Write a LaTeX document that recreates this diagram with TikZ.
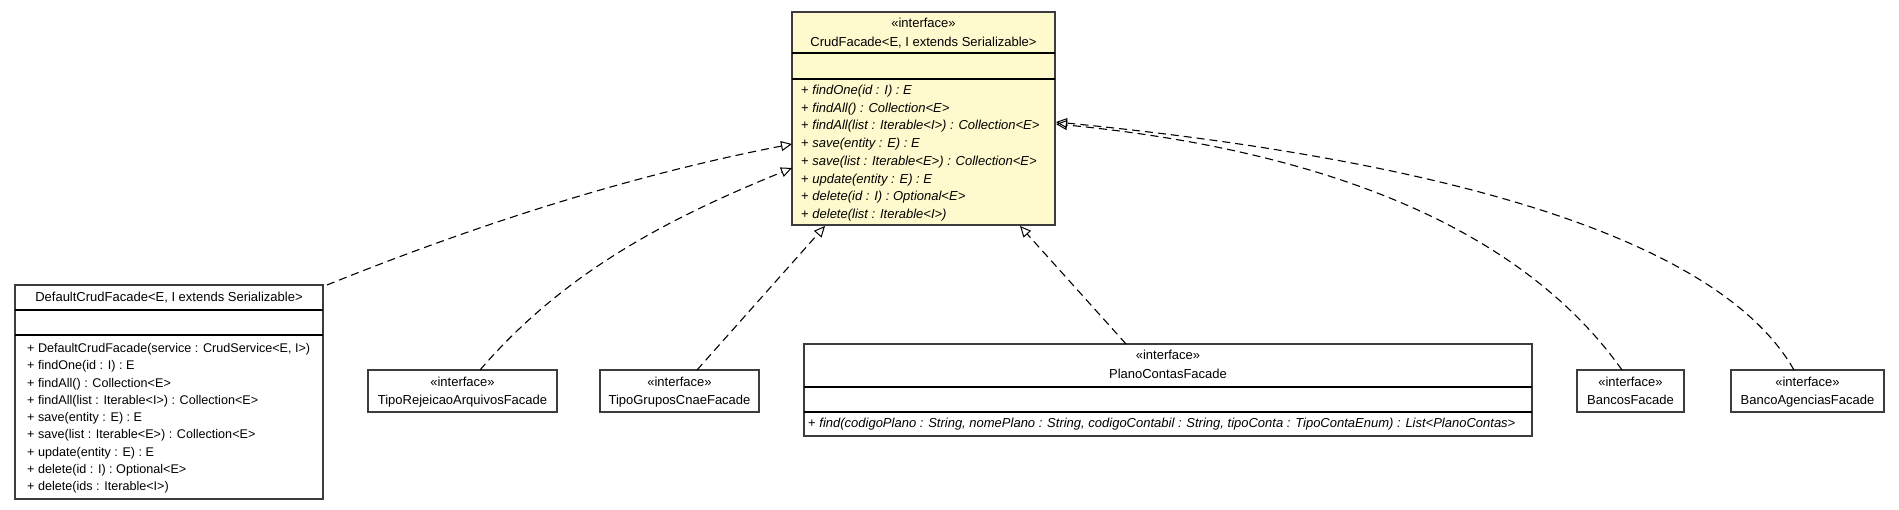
\documentclass[tikz,border=0pt]{standalone}
\usepackage{fontspec}
\setmainfont{Liberation Sans}
\usetikzlibrary{arrows.meta}
\definecolor{lemon}{RGB}{255,250,205}
\definecolor{boxline}{RGB}{60,60,60}
\begin{document}
\begin{tikzpicture}[x=1pt,y=-1pt,
  classbox/.style={draw=boxline, line width=1.5pt, anchor=north west, inner sep=0pt, outer sep=0pt},
  sepline/.style={draw=black, line width=1.3pt},
  txt/.style={inner sep=0pt, font=\fontsize{13}{15}\selectfont},
  smalltxt/.style={inner sep=0pt, font=\fontsize{12.6}{15}\selectfont},
  realize/.style={draw=black, line width=1.1pt, dash pattern=on 8pt off 5pt,
    -{Triangle[open, length=11pt, width=10pt, line width=1pt]}},
]
\useasboundingbox (0,0) rectangle (1899,509);
\fill[white] (0,0) rectangle (1899,509);

% CrudFacade
\node[classbox, fill=lemon, minimum width=263pt, minimum height=213pt] (crud) at (792,12) {};
\draw[sepline] (792,53) -- (1055,53);
\draw[sepline] (792,79) -- (1055,79);
\node[txt, anchor=base] (crudst) at (923.5,27.5) {«interface»};
\node[txt, anchor=base] (crudnm) at (923.5,46.5) {CrudFacade<E, I extends Serializable>};
\foreach \m [count=\i] in {{findOne(id : I) : E},{findAll() : Collection<E>},{findAll(list : Iterable<I>) : Collection<E>},{save(entity : E) : E},{save(list : Iterable<E>) : Collection<E>},{update(entity : E) : E},{delete(id : I) : Optional<E>},{delete(list : Iterable<I>)}}
  \node[txt, anchor=base west] (crudm\i) at (801,{94.5+17.7*(\i-1)}) {+ \textit{\m}};

% DefaultCrudFacade
\node[classbox, minimum width=308pt, minimum height=214pt] (default) at (15,285) {};
\draw[sepline] (15,310) -- (323,310);
\draw[sepline] (15,335) -- (323,335);
\node[txt, anchor=base] (defnm) at (169,301.5) {DefaultCrudFacade<E, I extends Serializable>};
\foreach \m [count=\i] in {{DefaultCrudFacade(service : CrudService<E, I>)},{findOne(id : I) : E},{findAll() : Collection<E>},{findAll(list : Iterable<I>) : Collection<E>},{save(entity : E) : E},{save(list : Iterable<E>) : Collection<E>},{update(entity : E) : E},{delete(id : I) : Optional<E>},{delete(ids : Iterable<I>)}}
  \node[smalltxt, anchor=base west] (defm\i) at (27,{352.5+17.25*(\i-1)}) {+ \m};

% TipoRejeicaoArquivosFacade
\node[classbox, minimum width=189pt, minimum height=42pt] (rej) at (368,370) {};
\node[txt, anchor=base] (rejst) at (462.5,386.5) {«interface»};
\node[txt, anchor=base] (rejnm) at (462.5,404) {TipoRejeicaoArquivosFacade};

% TipoGruposCnaeFacade
\node[classbox, minimum width=159pt, minimum height=42pt] (grp) at (600,370) {};
\node[txt, anchor=base] (grpst) at (679.5,386.5) {«interface»};
\node[txt, anchor=base] (grpnm) at (679.5,404) {TipoGruposCnaeFacade};

% PlanoContasFacade
\node[classbox, minimum width=728pt, minimum height=92pt] (plano) at (804,344) {};
\draw[sepline] (804,387) -- (1532,387);
\draw[sepline] (804,412) -- (1532,412);
\node[txt, anchor=base] (planost) at (1168,359.5) {«interface»};
\node[txt, anchor=base] (planonm) at (1168,378.5) {PlanoContasFacade};
\node[txt, anchor=base west] (planom1) at (808,427) {+ \textit{find(codigoPlano : String, nomePlano : String, codigoContabil : String, tipoConta : TipoContaEnum) : List<PlanoContas>}};

% BancosFacade
\node[classbox, minimum width=107pt, minimum height=42pt] (bancos) at (1577,370) {};
\node[txt, anchor=base] (bancosst) at (1630.5,386.5) {«interface»};
\node[txt, anchor=base] (bancosnm) at (1630.5,404) {BancosFacade};

% BancoAgenciasFacade
\node[classbox, minimum width=153pt, minimum height=42pt] (bag) at (1731,370) {};
\node[txt, anchor=base] (bagst) at (1807.5,386.5) {«interface»};
\node[txt, anchor=base] (bagnm) at (1807.5,404) {BancoAgenciasFacade};

% arrow tip points on CrudFacade
\coordinate (tipL1) at (792,144);
\coordinate (tipL2) at (792,168);
\coordinate (tipB1) at (825,226);
\coordinate (tipB2) at (1020,226);
\coordinate (tipR1) at (1056,124);
\coordinate (tipR2) at (1056,122);

% realizations
\draw[realize] ([xshift=4pt]default.north east) .. controls (483,222) and (637,174) .. (tipL1);
\draw[realize] ([xshift=17.5pt]rej.north) .. controls (566,270) and (672,217) .. (tipL2);
\draw[realize] ([xshift=17.5pt]grp.north) -- (tipB1);
\draw[realize] ([xshift=-42pt]plano.north) -- (tipB2);
\draw[realize] ([xshift=-8.5pt]bancos.north) .. controls (1515,219) and (1305,148) .. (tipR1);
\draw[realize] ([xshift=-13.5pt]bag.north) .. controls (1704,212) and (1340,150) .. (tipR2);
\end{tikzpicture}
\end{document}
